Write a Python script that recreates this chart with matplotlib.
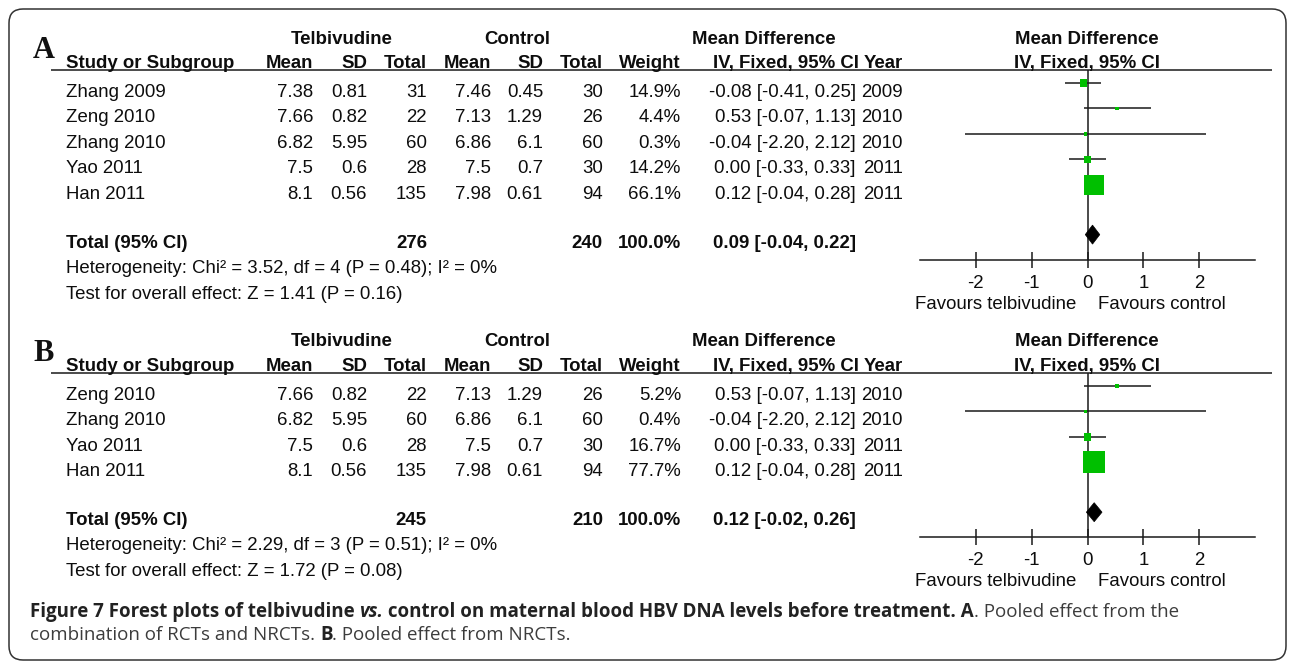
import matplotlib
matplotlib.use("Agg")
import matplotlib.pyplot as plt
from matplotlib.patches import FancyBboxPatch, Polygon

plt.rcParams["axes.unicode_minus"] = False

# ---- panel A: RCTs + NRCTs ----
studies_a = ["Zhang 2009", "Zeng 2010", "Zhang 2010", "Yao 2011", "Han 2011"]
tel_mean_a = [7.38, 7.66, 6.82, 7.5, 8.1]
tel_sd_a = [0.81, 0.82, 5.95, 0.6, 0.56]
tel_n_a = [31, 22, 60, 28, 135]
ctl_mean_a = [7.46, 7.13, 6.86, 7.5, 7.98]
ctl_sd_a = [0.45, 1.29, 6.1, 0.7, 0.61]
ctl_n_a = [30, 26, 60, 30, 94]
weight_a = [14.9, 4.4, 0.3, 14.2, 66.1]
md_a = [-0.08, 0.53, -0.04, 0.00, 0.12]
lo_a = [-0.41, -0.07, -2.20, -0.33, -0.04]
hi_a = [0.25, 1.13, 2.12, 0.33, 0.28]
year_a = [2009, 2010, 2010, 2011, 2011]
total_a = dict(tel_n=276, ctl_n=240, md=0.09, lo=-0.04, hi=0.22)
het_a = "Heterogeneity: Chi² = 3.52, df = 4 (P = 0.48); I² = 0%"
test_a = "Test for overall effect: Z = 1.41 (P = 0.16)"

# ---- panel B: NRCTs only ----
studies_b = ["Zeng 2010", "Zhang 2010", "Yao 2011", "Han 2011"]
tel_mean_b = [7.66, 6.82, 7.5, 8.1]
tel_sd_b = [0.82, 5.95, 0.6, 0.56]
tel_n_b = [22, 60, 28, 135]
ctl_mean_b = [7.13, 6.86, 7.5, 7.98]
ctl_sd_b = [1.29, 6.1, 0.7, 0.61]
ctl_n_b = [26, 60, 30, 94]
weight_b = [5.2, 0.4, 16.7, 77.7]
md_b = [0.53, -0.04, 0.00, 0.12]
lo_b = [-0.07, -2.20, -0.33, -0.04]
hi_b = [1.13, 2.12, 0.33, 0.28]
year_b = [2010, 2010, 2011, 2011]
total_b = dict(tel_n=245, ctl_n=210, md=0.12, lo=-0.02, hi=0.26)
het_b = "Heterogeneity: Chi² = 2.29, df = 3 (P = 0.51); I² = 0%"
test_b = "Test for overall effect: Z = 1.72 (P = 0.08)"

md_ticks = [-2, -1, 0, 1, 2]

W, H = 1290, 662
TXT = dict(family=["Liberation Sans", "DejaVu Sans"], fontsize=13.4, color="#0d0d0d")
BOLD = dict(TXT, fontweight="bold")
GREEN = "#00bf00"
LINE = "#1a1a1a"

# column anchors (pixels)
X_STUDY = 66
X_TMEAN, X_TSD, X_TN = 313, 367, 427
X_CMEAN, X_CSD, X_CN = 491, 543, 603
X_WT, X_CI, X_YEAR = 681, 856, 903
FOREST_L, FOREST_R = 920, 1255
FOREST_C = 1087

fig = plt.figure(figsize=(W / 100, H / 100), dpi=100)
cv = fig.add_axes([0, 0, 1, 1])
cv.set_xlim(0, W)
cv.set_ylim(H, 0)
cv.axis("off")

cv.add_patch(FancyBboxPatch((9, 9), 1277, 651, boxstyle="round,pad=0,rounding_size=14",
                            fill=False, ec="#333333", lw=1.1))


def fmt(v):
    return f"{v:g}"


def draw_panel(letter, top, studies, tmean, tsd, tn, cmean, csd, cn, wt, md, lo, hi, year,
               total, het, test):
    # top = centre line of the first header row
    underline = top + 33
    cv.text(33, underline - 12, letter, family=["Liberation Serif", "DejaVu Serif"],
            fontsize=22, fontweight="bold", va="baseline", color="#111111")
    hb = top + 6.5
    cv.text((X_TMEAN + X_TN) / 2 - 28, hb, "Telbivudine", ha="center", va="baseline", **BOLD)
    cv.text((X_CMEAN + X_CN) / 2 - 30, hb, "Control", ha="center", va="baseline", **BOLD)
    cv.text(764, hb, "Mean Difference", ha="center", va="baseline", **BOLD)
    cv.text(FOREST_C, hb, "Mean Difference", ha="center", va="baseline", **BOLD)

    hb2 = underline - 2
    cv.text(X_STUDY, hb2, "Study or Subgroup", ha="left", va="baseline", **BOLD)
    for x, s in [(X_TMEAN, "Mean"), (X_TSD, "SD"), (X_TN, "Total"), (X_CMEAN, "Mean"),
                 (X_CSD, "SD"), (X_CN, "Total"), (X_WT, "Weight"),
                 (X_CI + 3, "IV, Fixed, 95% CI"), (X_YEAR, "Year")]:
        cv.text(x, hb2, s, ha="right", va="baseline", **BOLD)
    cv.text(FOREST_C, hb2, "IV, Fixed, 95% CI", ha="center", va="baseline", **BOLD)
    cv.plot([51, 1272], [underline, underline], color=LINE, lw=1.1, solid_capstyle="butt")

    rows = [underline + 27 + 25.4 * i for i in range(len(studies))]
    for i, y in enumerate(rows):
        cells = [(X_TMEAN, fmt(tmean[i])), (X_TSD, fmt(tsd[i])), (X_TN, str(tn[i])),
                 (X_CMEAN, fmt(cmean[i])), (X_CSD, fmt(csd[i])), (X_CN, str(cn[i])),
                 (X_WT, f"{wt[i]:.1f}%"),
                 (X_CI, f"{md[i]:.2f} [{lo[i]:.2f}, {hi[i]:.2f}]"), (X_YEAR, str(year[i]))]
        cv.text(X_STUDY, y, studies[i], ha="left", va="baseline", **TXT)
        for x, s in cells:
            cv.text(x, y, s, ha="right", va="baseline", **TXT)

    ty = rows[-1] + 49
    cv.text(X_STUDY, ty, "Total (95% CI)", ha="left", va="baseline", **BOLD)
    cv.text(X_TN, ty, str(total["tel_n"]), ha="right", va="baseline", **BOLD)
    cv.text(X_CN, ty, str(total["ctl_n"]), ha="right", va="baseline", **BOLD)
    cv.text(X_WT, ty, "100.0%", ha="right", va="baseline", **BOLD)
    cv.text(X_CI, ty, f"{total['md']:.2f} [{total['lo']:.2f}, {total['hi']:.2f}]",
            ha="right", va="baseline", **BOLD)
    cv.text(X_STUDY, ty + 25, het, ha="left", va="baseline", **TXT)
    cv.text(X_STUDY, ty + 51, test, ha="left", va="baseline", **TXT)

    # forest plot: x in mean-difference units, y in canvas pixels
    axis_y = ty + 12
    ax = fig.add_axes([FOREST_L / W, 1 - axis_y / H, (FOREST_R - FOREST_L) / W,
                       (axis_y - underline) / H])
    ax.set_xlim(-3, 3)
    ax.set_ylim(axis_y, underline)
    ax.patch.set_alpha(0)
    for s in ["top", "left", "right"]:
        ax.spines[s].set_visible(False)
    ax.spines["bottom"].set_linewidth(1.1)
    ax.spines["bottom"].set_color(LINE)
    ax.set_yticks([])
    ax.set_xticks(md_ticks)
    ax.set_xticklabels([str(t) for t in md_ticks])
    ax.tick_params(axis="x", direction="inout", length=12, width=1.1, color=LINE,
                   labelsize=13.4, pad=5, labelcolor="#0d0d0d")
    for lab in ax.get_xticklabels():
        lab.set_family(["Liberation Sans", "DejaVu Sans"])
    ax.axvline(0, color=LINE, lw=1.1)

    mark_y = [y - 14 for y in rows]
    ax.hlines(mark_y, lo, hi, color=LINE, lw=1.1)
    sides = [max(3.5, 1.065 * w ** 0.7) * 0.72 for w in wt]
    ax.scatter(md, mark_y, marker="s", s=[s ** 2 for s in sides], color=GREEN,
               linewidths=0, zorder=3)
    dy = ty - 13
    ax.add_patch(Polygon([(total["lo"], dy), (total["md"], dy - 9.5), (total["hi"], dy),
                          (total["md"], dy + 9.5)], closed=True, fc="black", ec="black",
                         lw=0.5, zorder=4))
    ax.text(-0.2, axis_y + 49, "Favours telbivudine", ha="right", va="baseline",
            clip_on=False, **TXT)
    ax.text(0.18, axis_y + 49, "Favours control", ha="left", va="baseline",
            clip_on=False, **TXT)


draw_panel("A", 37, studies_a, tel_mean_a, tel_sd_a, tel_n_a, ctl_mean_a, ctl_sd_a, ctl_n_a,
           weight_a, md_a, lo_a, hi_a, year_a, total_a, het_a, test_a)
draw_panel("B", 340, studies_b, tel_mean_b, tel_sd_b, tel_n_b, ctl_mean_b, ctl_sd_b, ctl_n_b,
           weight_b, md_b, lo_b, hi_b, year_b, total_b, het_b, test_b)

# caption with mixed bold / italic / regular runs
renderer = fig.canvas.get_renderer()
CAP = dict(family=["Open Sans", "DejaVu Sans"], fontsize=13.5, color="#3c3c3c")
CAPB = dict(CAP, fontweight="bold", color="#222222")


def draw_runs(x, y, runs):
    for s, kw in runs:
        t = cv.text(x, y, s, ha="left", va="baseline", **kw)
        x += t.get_window_extent(renderer=renderer).width


draw_runs(30, 617, [
    ("Figure 7 Forest plots of telbivudine ", CAPB),
    ("vs.", dict(CAPB, style="italic")),
    (" control on maternal blood HBV DNA levels before treatment. A", CAPB),
    (". Pooled effect from the", CAP),
])
draw_runs(30, 640, [
    ("combination of RCTs and NRCTs. ", CAP),
    ("B", CAPB),
    (". Pooled effect from NRCTs.", CAP),
])

fig.savefig("out.png", dpi=100)
